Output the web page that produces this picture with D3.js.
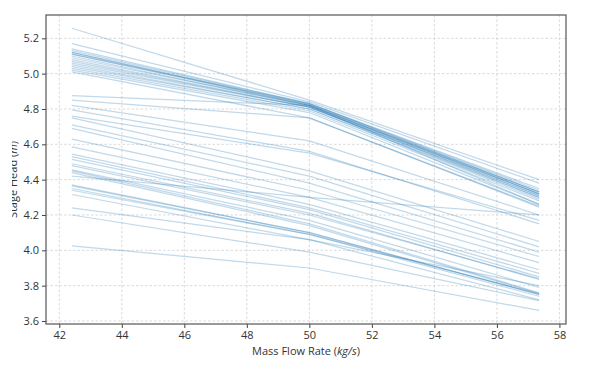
<!DOCTYPE html>
<html>
<head>
<meta charset="utf-8">
<script src="https://cdn.jsdelivr.net/npm/d3@7"></script>
<style>
  html, body { margin: 0; padding: 0; background: #fff; }
  svg { display: block; }
  text { font-family: "Open Sans", "DejaVu Sans", sans-serif; fill: #333; }
</style>
</head>
<body>
<svg id="chart" width="600" height="369"></svg>
<script>
// ---- data ----
const flowPoints = [42.4, 50.0, 57.35];           // mass flow rate (kg/s)
const headAtLow = [                               // head at 42.4 kg/s
  5.257, 5.17, 5.14, 5.13, 5.12, 5.11, 5.10, 5.09, 5.08, 5.07, 5.05, 5.04, 5.03, 5.02, 5.01, 5.11, 5.06, 5.12,
  4.875, 4.85, 4.82, 4.795, 4.76, 4.75, 4.71, 4.69, 4.63, 4.585, 4.545, 4.53, 4.515, 4.49,
  4.48, 4.455, 4.45, 4.44, 4.42, 4.37, 4.365, 4.35, 4.34, 4.316, 4.24, 4.20, 4.025
];
const headAtMid = [                               // head at 50 kg/s
  4.85, 4.84, 4.83, 4.83, 4.82, 4.82, 4.815, 4.82, 4.81, 4.81, 4.80, 4.80, 4.79, 4.78, 4.75, 4.83, 4.81, 4.825,
  4.82, 4.75, 4.62, 4.56, 4.55, 4.45, 4.42, 4.38, 4.34, 4.30, 4.26, 4.24, 4.23, 4.21,
  4.20, 4.17, 4.15, 4.14, 4.30, 4.10, 4.10, 4.09, 4.09, 4.06, 4.06, 3.99, 3.90
];
const headAtHigh = [                              // head at 57.35 kg/s
  4.40, 4.38, 4.35, 4.34, 4.33, 4.32, 4.32, 4.32, 4.31, 4.30, 4.30, 4.29, 4.28, 4.26, 4.25, 4.33, 4.31, 4.33,
  4.26, 4.245, 4.20, 4.15, 4.17, 4.05, 4.02, 3.99, 3.965, 3.93, 3.89, 3.87, 3.85, 3.835,
  3.84, 3.79, 3.76, 3.755, 4.20, 3.75, 3.75, 3.74, 3.755, 3.72, 3.80, 3.715, 3.66
];
const xTicks = [42, 44, 46, 48, 50, 52, 54, 56, 58];
const yTicks = [3.6, 3.8, 4.0, 4.2, 4.4, 4.6, 4.8, 5.0, 5.2];

// ---- layout ----
const svg = d3.select("#chart");
const L = 46, R = 566, T = 15, B = 324;
const x = d3.scaleLinear().domain([41.575, 58.21]).range([L, R]);
const y = d3.scaleLinear().domain([3.583, 5.332]).range([B, T]);

// grid
const grid = svg.append("g");
grid.selectAll(".gx").data(xTicks).join("line")
  .attr("x1", d => x(d)).attr("x2", d => x(d)).attr("y1", T).attr("y2", B)
  .attr("stroke", "#d0d0d0").attr("stroke-width", 0.8).attr("stroke-dasharray", "2.5,2");
grid.selectAll(".gy").data(yTicks).join("line")
  .attr("x1", L).attr("x2", R).attr("y1", d => y(d)).attr("y2", d => y(d))
  .attr("stroke", "#d0d0d0").attr("stroke-width", 0.8).attr("stroke-dasharray", "2.5,2");

// lines
const series = headAtLow.map((h, i) => [h, headAtMid[i], headAtHigh[i]].map((v, j) => [flowPoints[j], v]));
const line = d3.line().x(d => x(d[0])).y(d => y(d[1]));
svg.append("g").selectAll("path").data(series).join("path")
  .attr("d", line)
  .attr("fill", "none")
  .attr("stroke", "#1f77b4")
  .attr("stroke-opacity", 0.28)
  .attr("stroke-width", 1.25);

// axes
const xAxis = svg.append("g").attr("transform", `translate(0,${B})`)
  .call(d3.axisBottom(x).tickValues(xTicks).tickFormat(d3.format("d")).tickSize(4).tickPadding(3));
const yAxis = svg.append("g").attr("transform", `translate(${L},0)`)
  .call(d3.axisLeft(y).tickValues(yTicks).tickFormat(d3.format(".1f")).tickSize(4).tickPadding(3));
[xAxis, yAxis].forEach(a => {
  a.select(".domain").remove();
  a.selectAll(".tick line").attr("stroke", "#444");
  a.selectAll(".tick text").attr("font-size", 11).style("font-family", '"Open Sans", sans-serif').attr("fill", "#333");
});

// frame
svg.append("rect").attr("x", L).attr("y", T).attr("width", R - L).attr("height", B - T)
  .attr("fill", "none").attr("stroke", "#555").attr("stroke-width", 1.2);

// labels
const xl = svg.append("text").attr("x", (L + R) / 2).attr("y", 355)
  .attr("text-anchor", "middle").attr("font-size", 11);
xl.append("tspan").text("Mass Flow Rate (");
xl.append("tspan").attr("font-style", "italic").text("kg/s");
xl.append("tspan").text(")");

svg.append("clipPath").attr("id", "ylclip").append("rect")
  .attr("x", 12).attr("y", 0).attr("width", 30).attr("height", 369);
const yl = svg.append("g").attr("clip-path", "url(#ylclip)")
  .append("text").attr("transform", `translate(17,${(T + B) / 2 + 10}) rotate(-90)`)
  .attr("text-anchor", "middle").attr("font-size", 11);
yl.append("tspan").text("Stage Head (");
yl.append("tspan").attr("font-style", "italic").text("m");
yl.append("tspan").text(")");
</script>
</body>
</html>
